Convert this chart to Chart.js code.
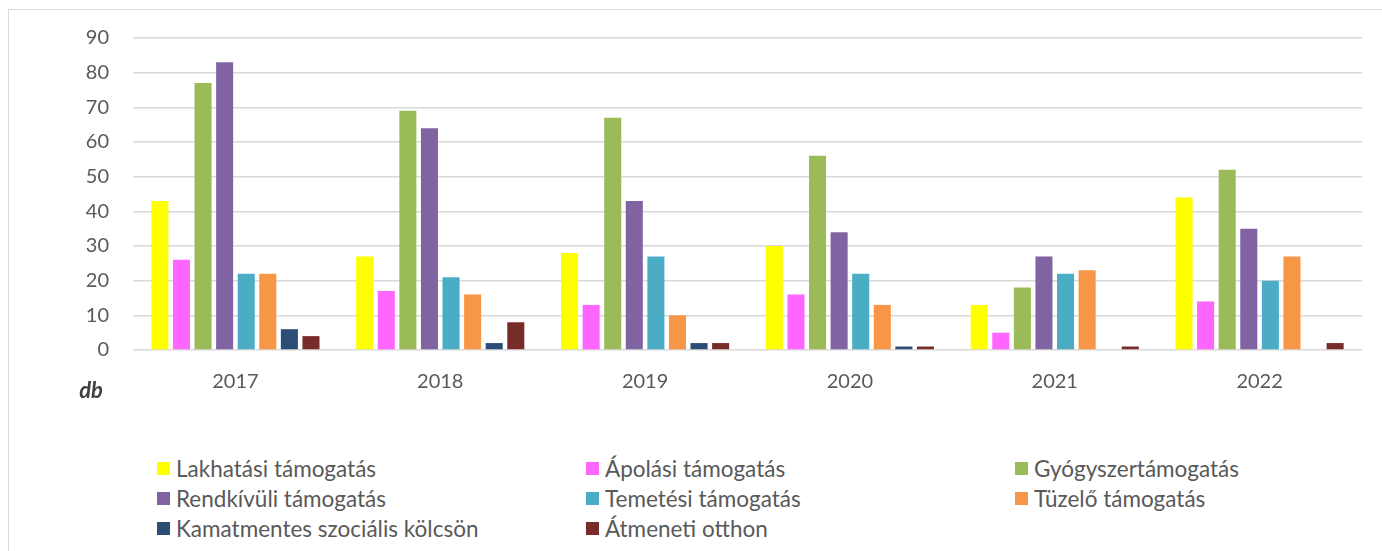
<!DOCTYPE html>
<html>
<head>
<meta charset="utf-8">
<script src="https://cdn.jsdelivr.net/npm/chart.js@4/dist/chart.umd.min.js"></script>
<style>
  html, body { margin: 0; padding: 0; background: #fff; }
  body { width: 1382px; height: 551px; position: relative; overflow: hidden; font-family: Lato, "Open Sans", sans-serif; }
  #frame { position: absolute; left: 8px; top: 9px; width: 1420px; height: 580px; border: 1px solid #d9d9d9; box-sizing: border-box; }
  #wrap { position: absolute; left: 0; top: 0; width: 1382px; height: 420px; }
  #legend { position: absolute; left: 157px; top: 453px; display: grid; grid-template-columns: 429px 429px 429px; row-gap: 0; }
  .item { display: flex; align-items: center; height: 30px; font-size: 22.5px; color: #595959; white-space: nowrap; }
  .box { width: 13px; height: 13px; margin-right: 6px; flex: none; }
</style>
</head>
<body>
<div id="frame"></div>
<div id="wrap"><canvas id="c" width="1382" height="420"></canvas></div>
<div id="legend"></div>
<script>
const years = ["2017", "2018", "2019", "2020", "2021", "2022"];
const seriesNames = ["Lakhatási támogatás", "Ápolási támogatás", "Gyógyszertámogatás", "Rendkívüli támogatás", "Temetési támogatás", "Tüzelő támogatás", "Kamatmentes szociális kölcsön", "Átmeneti otthon"];
const lakhatasi   = [43, 27, 28, 30, 13, 44];
const apolasi     = [26, 17, 13, 16, 5, 14];
const gyogyszer   = [77, 69, 67, 56, 18, 52];
const rendkivuli  = [83, 64, 43, 34, 27, 35];
const temetesi    = [22, 21, 27, 22, 22, 20];
const tuzelo      = [22, 16, 10, 13, 23, 27];
const kamatmentes = [6, 2, 2, 1, 0, 0];
const atmeneti    = [4, 8, 2, 1, 1, 2];
const yTicks = [0, 10, 20, 30, 40, 50, 60, 70, 80, 90];
const colors = ["#FFFF00", "#FF66FF", "#9BBB59", "#8064A2", "#4BACC6", "#F79646", "#2C4D75", "#772C2A"];
const seriesValues = [lakhatasi, apolasi, gyogyszer, rendkivuli, temetesi, tuzelo, kamatmentes, atmeneti];

const datasets = seriesNames.map((name, i) => ({
  label: name,
  data: seriesValues[i],
  backgroundColor: colors[i],
  borderWidth: 0,
  barPercentage: 0.79,
  categoryPercentage: 0.843
}));

const dbLabel = {
  id: 'dbLabel',
  afterDraw(chart) {
    const ctx = chart.ctx;
    ctx.save();
    ctx.font = 'italic bold 22px Lato, "Open Sans", sans-serif';
    ctx.fillStyle = '#404040';
    ctx.textAlign = 'center';
    ctx.textBaseline = 'middle';
    ctx.fillText('db', chart.chartArea.left - 42, chart.chartArea.bottom + 41);
    ctx.restore();
  }
};

const tickFont = { family: 'Lato, "Open Sans", sans-serif', size: 20 };

const chart = new Chart(document.getElementById('c'), {
  type: 'bar',
  data: { labels: years, datasets },
  options: {
    responsive: false,
    animation: false,
    layout: { padding: { top: 38, right: 20, left: 0, bottom: 0 } },
    plugins: { legend: { display: false }, tooltip: { enabled: false } },
    scales: {
      x: {
        grid: { display: false, drawTicks: false },
        border: { display: false },
        ticks: { color: '#595959', font: tickFont, padding: 20 },
        afterFit(axis) { axis.height = 70; }
      },
      y: {
        min: 0, max: 90,
        afterBuildTicks(axis) { axis.ticks = yTicks.map(v => ({ value: v })); },
        grid: { color: '#d9d9d9', lineWidth: 1.5, drawTicks: false },
        border: { display: false },
        ticks: { color: '#595959', font: tickFont, padding: 24 },
        afterFit(axis) { axis.width = 133; }
      }
    }
  },
  plugins: [dbLabel]
});

const legend = document.getElementById('legend');
datasets.forEach(ds => {
  const item = document.createElement('div');
  item.className = 'item';
  const box = document.createElement('span');
  box.className = 'box';
  box.style.background = ds.backgroundColor;
  const txt = document.createElement('span');
  txt.textContent = ds.label;
  item.appendChild(box);
  item.appendChild(txt);
  legend.appendChild(item);
});
</script>
</body>
</html>
